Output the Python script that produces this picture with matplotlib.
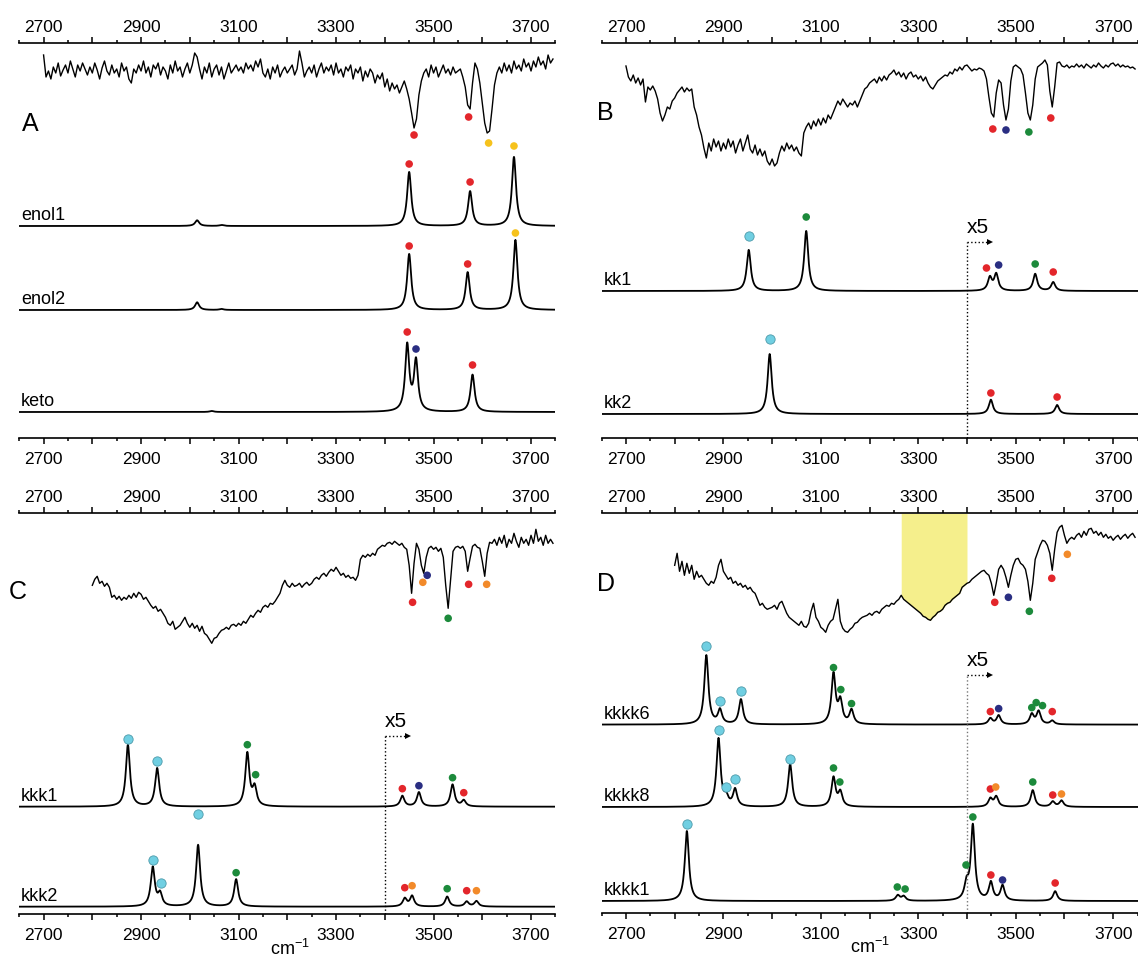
import numpy as np
import matplotlib
matplotlib.use('Agg')
import matplotlib.pyplot as plt
from matplotlib.transforms import ScaledTranslation

plt.rcParams['font.family'] = ['Liberation Sans', 'DejaVu Sans']

# colours of the assignment dots
RED = '#e3262b'
YEL = '#f6c21c'
NAVY = '#2a2e82'
GRN = '#1c8a3b'
CYAN = '#70cfe2'
ORNG = '#f28a2a'

# ---- experimental traces: depth below top axis (px), sampled every 5 cm-1 ----
a_exp_start = 2700
a_exp = [
    12, 34, 28, 36, 24, 30, 20, 33, 27, 22, 30, 18, 26, 34, 22, 28, 20, 26, 32, 24,   # 2700
    30, 20, 27, 36, 25, 18, 28, 32, 22, 30, 26, 34, 20, 28, 24, 36, 40, 26, 30, 22,   # 2800
    28, 18, 30, 24, 34, 22, 26, 20, 32, 24, 28, 36, 22, 30, 18, 28, 24, 34, 26, 20,   # 2900
    30, 22, 10, 14, 26, 36, 24, 30, 20, 34, 26, 22, 32, 24, 36, 28, 20, 30, 26, 22,   # 3000
    28, 24, 30, 20, 26, 22, 28, 18, 24, 16, 30, 34, 26, 36, 24, 30, 22, 34, 28, 24,   # 3100
    30, 26, 22, 32, 26, 8, 20, 34, 28, 24, 30, 22, 34, 26, 20, 30, 24, 28, 22, 32,    # 3200
    20, 30, 26, 34, 24, 28, 22, 36, 26, 30, 24, 38, 28, 34, 26, 30, 40, 32, 36, 30,   # 3300
    44, 36, 48, 40, 46, 42, 50, 44, 38, 46, 56, 70, 85, 76, 52, 38, 30, 26, 34, 22,   # 3400
    30, 24, 34, 28, 22, 30, 26, 32, 24, 30, 28, 26, 34, 44, 62, 66, 40, 20, 26, 40,   # 3500
    60, 80, 90, 88, 66, 42, 30, 24, 30, 20, 28, 22, 30, 18, 26, 22, 28, 16, 24, 20,   # 3600
    28, 18, 24, 14, 22, 18, 26, 12, 20, 16,                                           # 3700
]
b_exp_start = 2700
b_exp = [
    23, 34, 38, 32, 40, 35, 42, 36, 59, 44, 47, 43, 48, 56, 70, 78, 72, 64, 66, 58,
    55, 50, 47, 44, 49, 45, 48, 46, 64, 72, 84, 92, 105, 115, 100, 108, 96, 104, 98, 108,
    100, 106, 96, 104, 98, 110, 102, 96, 108, 100, 92, 106, 110, 102, 112, 106, 113, 108, 118, 122,
    116, 123, 120, 110, 103, 108, 100, 106, 102, 108, 104, 110, 113, 90, 84, 80, 86, 78, 83, 76,
    82, 75, 80, 72, 76, 70, 64, 58, 62, 56, 60, 64, 60, 62, 58, 64, 58, 52, 46, 44,
    40, 38, 36, 40, 34, 38, 33, 37, 32, 30, 27, 32, 29, 34, 30, 36, 31, 29, 34, 32,
    36, 33, 38, 34, 40, 44, 46, 42, 38, 36, 34, 32, 33, 29, 31, 26, 28, 24, 27, 23,
    22, 25, 28, 26, 27, 25, 26, 28, 36, 54, 70, 74, 50, 37, 40, 62, 77, 66, 38, 24,
    22, 24, 26, 32, 50, 70, 77, 62, 36, 24, 22, 20, 17, 22, 48, 64, 44, 20, 19, 23,
    24, 22, 25, 23, 24, 21, 24, 22, 25, 21, 23, 25, 22, 24, 20, 23, 25, 22, 24, 21,
    20, 23, 21, 24, 22, 24, 23, 25, 24, 26,
]
c_exp_start = 2800
c_exp = [
    72, 66, 63, 70, 68, 73, 70, 74, 84, 82, 86, 83, 87, 84, 86, 82, 85, 80, 84, 79,
    81, 86, 84, 88, 92, 95, 93, 98, 96, 100, 104, 110, 112, 108, 116, 114, 112, 108, 104, 110,
    114, 110, 115, 112, 118, 113, 120, 122, 126, 130, 125, 124, 120, 117, 116, 114, 116, 112, 111, 113,
    110, 112, 108, 110, 106, 102, 104, 100, 97, 99, 94, 92, 94, 90, 91, 88, 84, 80, 72, 67,
    72, 74, 70, 73, 72, 70, 74, 71, 69, 72, 70, 66, 64, 66, 62, 60, 63, 59, 56, 58,
    54, 58, 62, 60, 64, 62, 65, 64, 67, 62, 46, 42, 44, 41, 43, 40, 42, 36, 34, 32,
    33, 30, 29, 31, 28, 30, 32, 30, 34, 36, 52, 80, 50, 30, 36, 52, 60, 44, 35, 33,
    36, 34, 38, 35, 44, 72, 95, 66, 38, 34, 33, 35, 33, 38, 58, 45, 33, 31, 34, 35,
    48, 63, 40, 29, 30, 26, 32, 24, 30, 22, 34, 26, 30, 20, 28, 34, 24, 30, 26, 32,
    22, 30, 16, 28, 24, 32, 22, 30, 26, 30,
]
d_exp_start = 2800
d_exp = [
    52, 40, 58, 48, 62, 50, 60, 52, 66, 58, 64, 62, 66, 70, 72, 68, 70, 64, 52, 46,
    58, 62, 66, 64, 70, 68, 72, 70, 74, 72, 76, 74, 78, 80, 86, 92, 90, 94, 96, 95,
    94, 92, 96, 90, 88, 94, 100, 104, 106, 108, 110, 112, 108, 113, 114, 110, 98, 90, 104, 108,
    114, 116, 119, 112, 108, 106, 96, 86, 108, 115, 118, 119, 116, 114, 110, 109, 106, 104, 103, 102,
    100, 102, 99, 98, 100, 96, 94, 92, 93, 90, 91, 88, 86, 82, 86, 88, 90, 92, 94, 96,
    98, 100, 103, 104, 106, 107, 104, 102, 99, 98, 96, 92, 90, 89, 86, 84, 82, 80, 74, 72,
    70, 69, 66, 64, 62, 60, 58, 57, 60, 62, 70, 82, 70, 56, 52, 56, 64, 74, 62, 52,
    46, 45, 50, 52, 56, 68, 87, 70, 46, 39, 32, 27, 28, 32, 40, 57, 36, 19, 14, 12,
    22, 30, 26, 24, 26, 22, 20, 24, 18, 22, 16, 15, 20, 18, 22, 19, 24, 21, 25, 23,
    27, 24, 22, 26, 23, 21, 25, 22, 20, 24,
]
d_highlight = (3265, 3400)

# dots under the experimental bands: (cm-1, depth, colour)
a_exp_dots = [(3460, 92, RED), (3572, 74, RED), (3613, 100, YEL)]
b_exp_dots = [(3453, 86, RED), (3480, 87, NAVY), (3527, 89, GRN), (3572, 75, RED)]
c_exp_dots = [(3457, 89, RED), (3478, 69, ORNG), (3487, 62, NAVY), (3530, 105, GRN),
              (3572, 71, RED), (3609, 71, ORNG)]
d_exp_dots = [(3457, 89, RED), (3485, 84, NAVY), (3528, 98, GRN), (3574, 65, RED),
              (3606, 41, ORNG)]

# ---- computed spectra: peaks (cm-1, height) and dots (cm-1, height, colour) ----
enol1_peaks = [(3015, 5.7), (3065, 1), (3450, 54), (3575, 34.7), (3665, 69)]
enol1_dots = [(3450, 62, RED), (3575, 44, RED), (3665, 80, YEL)]
enol2_peaks = [(3015, 7.7), (3065, 1), (3450, 56), (3570, 37.7), (3668, 70)]
enol2_dots = [(3450, 64, RED), (3570, 46, RED), (3668, 77, YEL)]
keto_peaks = [(3045, 1), (3446, 66), (3464, 50), (3580, 37.3)]
keto_dots = [(3446, 80, RED), (3464, 63, NAVY), (3580, 47, RED)]

kk1_peaks = [(2952, 41), (3070, 60), (3447, 13), (3460, 16.5), (3540, 17), (3577, 8.7)]
kk1_dots = [(2952, 55, CYAN), (3070, 74, GRN), (3440, 23, RED), (3465, 26, NAVY),
            (3540, 27, GRN), (3577, 19, RED)]
kk2_peaks = [(2995, 60), (3449, 14.3), (3585, 9)]
kk2_dots = [(2995, 75, CYAN), (3449, 21, RED), (3585, 17, RED)]

kkk1_peaks = [(2873, 61.7), (2933, 38.3), (3118, 53), (3133, 18), (3436, 10.7),
              (3470, 14.3), (3539, 22), (3562, 6)]
kkk1_dots = [(2873, 68, CYAN), (2933, 46, CYAN), (3118, 62, GRN), (3135, 32, GRN),
             (3436, 18, RED), (3470, 21, NAVY), (3539, 29, GRN), (3562, 14, RED)]
kkk2_peaks = [(2924, 39), (2939, 12), (3017, 61.7), (3095, 27.3), (3441, 8),
              (3456, 10.5), (3528, 10), (3568, 5), (3588, 5.5)]
kkk2_dots = [(2924, 47, CYAN), (2941, 24, CYAN), (3017, 93, CYAN), (3095, 34, GRN),
             (3441, 19, RED), (3456, 21, ORNG), (3528, 18, GRN), (3568, 16, RED),
             (3588, 16, ORNG)]

kkkk6_peaks = [(2865, 69), (2893, 14), (2936, 25), (3126, 50), (3140, 22), (3163, 14),
               (3448, 6), (3465, 9), (3533, 10), (3547, 13), (3575, 3.7)]
kkkk6_dots = [(2865, 79, CYAN), (2893, 24, CYAN), (2936, 34, CYAN), (3126, 57, GRN),
              (3141, 35, GRN), (3163, 21, GRN), (3448, 13, RED), (3465, 16, NAVY),
              (3533, 17, GRN), (3542, 22, GRN), (3555, 19, GRN), (3575, 13, RED)]
kkkk8_peaks = [(2890, 68), (2906, 8), (2924, 17), (3037, 42.7), (3126, 29), (3140, 14),
               (3448, 8), (3460, 10), (3535, 16.7), (3576, 5.2), (3594, 6.2)]
kkkk8_dots = [(2890, 77, CYAN), (2906, 20, CYAN), (2924, 28, CYAN), (3037, 48, CYAN),
              (3126, 39, GRN), (3139, 25, GRN), (3448, 18, RED), (3459, 20, ORNG),
              (3535, 25, GRN), (3576, 12, RED), (3594, 13, ORNG)]
kkkk1_peaks = [(2825, 70), (3258, 5.5), (3270, 4.5), (3399, 15), (3412, 75), (3449, 18),
               (3473, 15), (3581, 9.7)]
kkkk1_dots = [(2825, 77, CYAN), (3257, 14, GRN), (3273, 12, GRN), (3398, 36, GRN),
              (3412, 84, GRN), (3449, 26, RED), (3473, 21, NAVY), (3581, 18, RED)]

tick_major = np.arange(2700, 3751, 100)
tick_labels = np.arange(2700, 3701, 200)

W, HF = 1138, 961
XMIN, XMAX = 2650, 3750


def lorentz(x, peaks, g=5.0):
    y = np.zeros_like(x)
    for c, h in peaks:
        y += h * g ** 2 / ((x - c) ** 2 + g ** 2)
    return y


def make_ax(x0, x1, y0, y1):
    ax = fig.add_axes([x0 / W, 1 - y1 / HF, (x1 - x0) / W, (y1 - y0) / HF])
    ax.set_xlim(XMIN, XMAX)
    ax.set_ylim(y1 - y0, 0)
    ax.spines['left'].set_visible(False)
    ax.spines['right'].set_visible(False)
    for s in ('top', 'bottom'):
        ax.spines[s].set_linewidth(1.2)
    ax.set_yticks([])
    ax.set_xticks(tick_major)
    ax.set_xticks(np.arange(2650, 3751, 50), minor=True)
    ax.set_xticklabels([str(t) if t in tick_labels else '' for t in tick_major])
    ax.tick_params(axis='x', which='both', top=True, bottom=True, labeltop=True,
                   labelbottom=True, direction='out', width=1.1, labelsize=12.5)
    ax.tick_params(axis='x', which='major', length=4.5, pad=1.5)
    ax.tick_params(axis='x', which='minor', length=2.5)
    # bottom labels sit a little further from the axis than the top ones
    shift = ScaledTranslation(0, -4 / 72, fig.dpi_scale_trans)
    for t in ax.xaxis.get_major_ticks():
        t.label1.set_transform(t.label1.get_transform() + shift)
    return ax


def exp_trace(ax, start, vals, dots, fill=None):
    xs = start + 5 * np.arange(len(vals))
    ys = np.array(vals, dtype=float)
    if fill is not None:
        m = (xs >= fill[0]) & (xs <= fill[1])
        ax.fill_between(xs[m], 0, ys[m], color='#f5ef8c', lw=0, zorder=0)
    ax.plot(xs, ys, color='black', lw=1.0, zorder=2)
    for x, d, c in dots:
        ax.scatter(x, d, s=30, color=c, edgecolors='none', zorder=5)


def calc_trace(ax, label, base, peaks, dots):
    xs = np.linspace(XMIN, XMAX, 2201)
    ax.plot(xs, base - lorentz(xs, peaks), color='black', lw=1.3, zorder=2)
    for x, h, c in dots:
        if c == CYAN:
            ax.scatter(x, base - h, s=45, color=c, edgecolors='#4d9aaa', linewidths=0.6, zorder=5)
        else:
            ax.scatter(x, base - h, s=30, color=c, edgecolors='none', zorder=5)
    ax.text(2654, base - 6, label, fontsize=13, ha='left', va='baseline')


def times5(ax, height, top, color='black'):
    ax.plot([3400, 3400], [height, top], ls=':', color=color, lw=1.0)
    ax.plot([3400, 3444], [top, top], ls=':', color='black', lw=1.0)
    ax.plot(3447, top, marker='>', ms=5, color='black', mew=0)
    ax.text(3400, top - 5, 'x5', fontsize=15, ha='left', va='bottom')


fig = plt.figure(figsize=(W / 100, HF / 100), dpi=100)

# panel A
axA = make_ax(19.2, 555.4, 43, 438)
exp_trace(axA, a_exp_start, a_exp, a_exp_dots)
calc_trace(axA, 'enol1', 183, enol1_peaks, enol1_dots)
calc_trace(axA, 'enol2', 267, enol2_peaks, enol2_dots)
calc_trace(axA, 'keto', 369, keto_peaks, keto_dots)

# panel B
axB = make_ax(601.6, 1137.5, 43, 438)
exp_trace(axB, b_exp_start, b_exp, b_exp_dots)
calc_trace(axB, 'kk1', 248, kk1_peaks, kk1_dots)
calc_trace(axB, 'kk2', 371, kk2_peaks, kk2_dots)
times5(axB, 395, 199)

# panel C
axC = make_ax(19.2, 555.4, 513.3, 914)
exp_trace(axC, c_exp_start, c_exp, c_exp_dots)
calc_trace(axC, 'kkk1', 293.4, kkk1_peaks, kkk1_dots)
calc_trace(axC, 'kkk2', 393.4, kkk2_peaks, kkk2_dots)
times5(axC, 400.7, 223)
axC.text(3205, 400.7 + 35, 'cm$^{\\mathregular{-1}}$', fontsize=13, ha='center', va='center')

# panel D
axD = make_ax(601.6, 1137.5, 513.3, 913)
exp_trace(axD, d_exp_start, d_exp, d_exp_dots, fill=d_highlight)
calc_trace(axD, 'kkkk6', 211.3, kkkk6_peaks, kkkk6_dots)
calc_trace(axD, 'kkkk8', 293.7, kkkk8_peaks, kkkk8_dots)
calc_trace(axD, 'kkkk1', 387.7, kkkk1_peaks, kkkk1_dots)
times5(axD, 399.7, 162, color='#777777')
axD.text(3200, 399.7 + 34, 'cm$^{\\mathregular{-1}}$', fontsize=13, ha='center', va='center')

for letter, xp, yp in [('A', 22, 124), ('B', 597, 113), ('C', 9, 592), ('D', 597, 584)]:
    fig.text(xp / W, 1 - yp / HF, letter, fontsize=18, ha='left', va='center')

fig.savefig('out.png', dpi=100)
